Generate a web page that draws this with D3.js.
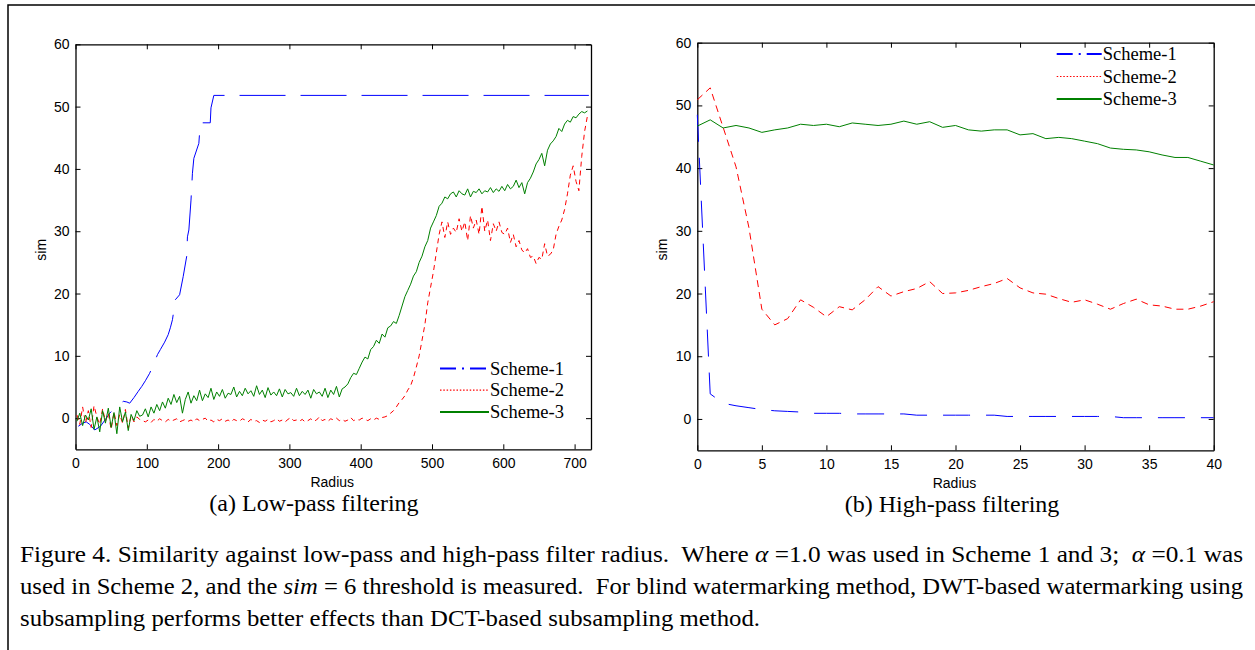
<!DOCTYPE html>
<html>
<head>
<meta charset="utf-8">
<script src="https://cdn.jsdelivr.net/npm/d3@7"></script>
<style>
  body { margin: 0; background: #fff; }
  svg { display: block; }
  .tick text { font-family: "Liberation Sans", Arial, sans-serif; font-size: 14px; fill: #000; }
  .tick line, .domain { stroke: #000; }
</style>
</head>
<body>
<div id="chart"></div>
<script>
// ---- data ----
const seriesNames = ["Scheme-1", "Scheme-2", "Scheme-3"]
const seriesColors = ["#0000ff", "#ff0000", "#008000"]

// (a) low-pass: radius grid for scheme 2/3, scheme 1 has its own points
const lowRadius = d3.range(2, 720, 4)
const lowScheme1Radius = [4, 10, 15, 20, 27, 35, 42, 48, 55, 62, 67, 72, 76, 82, 88, 93, 98, 104, 110, 115, 119, 125, 130, 133, 136, 140, 146, 151, 156, 157, 159, 162, 164, 166, 173, 175, 189, 190, 194, 720]
const lowScheme1 = [-1.3, -0.8, -0.6, -1.0, -1.9, -1.3, -0.2, 0.8, 1.6, 2.3, 2.7, 2.6, 2.4, 3.3, 4.3, 5.1, 6.0, 7.2, 8.8, 10.2, 11.0, 12.2, 13.4, 14.5, 15.8, 19.0, 19.8, 22.7, 26.0, 29.1, 30.2, 35.0, 39.3, 41.7, 44.1, 47.4, 47.4, 49.8, 51.8, 51.8]
const lowScheme2 = [
  0.5, -1.0, 1.8, -0.8, 1.2, -1.5, 2.0, 0.2, -1.0, 1.5, -0.5, 0.8, -1.8, 1.0, -1.2, 0.6, -0.8, 1.4, -1.6, 0.4, -0.6, 0.2, -0.2,
  -0.4, -0.6, -0.3, -0.7, -0.2, -0.5, -0.1, -0.4, -0.6, -0.2,
  -0.5, -0.3, -0.1, -0.6, -0.4, -0.2, -0.5, -0.3, -0.6, -0.1,
  -0.4, -0.2, 0.0, -0.5, -0.3, -0.6, -0.2, -0.4, -0.1, -0.5,
  -0.3, -0.6, -0.2, -0.4, -0.5, -0.1, -0.3, -0.6, -0.2, -0.5,
  -0.4, -0.7, -0.3, -0.5, -0.2, -0.6, -0.4, -0.1, -0.5, -0.3,
  -0.6, -0.2, 0.1, -0.4, -0.3, -0.5, -0.2, -0.6, -0.4, -0.1,
  -0.5, -0.3, 0.2, -0.4, -0.2, -0.5, -0.1, -0.3, 0.0, -0.4,
  -0.2, -0.5, -0.3, 0.1, -0.4, -0.2, -0.3, 0.0, -0.2, -0.4,
  -0.1, -0.3, 0.0, -0.2, 0.1, 0.2,
  0.4, 0.8, 1.2, 1.8, 2.5, 3.0, 3.6, 4.5, 5.2, 6.5, 8.2, 10.0, 12.5, 15.0, 18.5, 21.0,
  23.5, 26.5, 29.5, 31.5, 29.0, 31.5, 29.5, 30.5, 29.8, 32.0,
  30.0, 31.5, 28.5, 32.5, 30.5, 31.8, 29.5, 34.0, 30.0, 31.8,
  28.5, 31.2, 30.0, 31.5, 29.8, 29.5, 30.5, 28.2, 29.5, 27.5,
  28.5, 27.0, 26.5, 27.2, 25.8, 26.0, 24.8, 25.8, 25.5, 28.0,
  26.0, 26.3, 27.0, 29.5, 30.8, 31.8, 33.5, 36.0, 39.0, 40.5,
  38.0, 36.5, 42.0, 46.0, 48.5
]
const lowScheme3 = [
  -0.5, 0.8, -1.2, 0.5, -0.3, 1.5, -1.8, 0.2, -2.2, 1.2, -0.8, 1.6, -1.5, 0.9, -2.5, 1.8, -0.6, 1.0, -2.0, 0.6, -0.4, 1.2, 0.3,
  0.5, 1.5, 0.2, 1.8, 0.8, 2.2, 1.2, 2.6, 1.6, 3.2,
  2.2, 3.8, 2.5, 3.5, 0.8, 3.0, 4.2, 2.4, 3.6, 2.8, 4.5, 2.8, 3.9, 3.3,
  4.8, 3.0, 4.2, 3.5, 4.6, 3.2, 4.0, 3.8, 5.0, 3.4,
  4.3, 3.6, 4.8, 3.9, 4.4, 3.5, 5.2, 3.8, 4.5, 3.3,
  4.9, 3.7, 4.2, 3.6, 4.7, 3.4, 4.6, 3.9, 4.1, 3.5,
  4.8, 3.6, 4.3, 3.8, 4.5, 3.2, 4.6, 3.9, 4.2, 3.5,
  4.8, 3.3, 4.5, 3.8, 5.1, 3.4, 4.7, 5.0,
  5.5, 6.5, 7.2, 7.0, 8.0, 9.0, 9.8, 9.5, 11.0, 11.5, 12.5, 12.0, 13.5, 13.0, 14.5,
  14.8, 15.5, 15.2, 16.5, 18.0, 19.5, 20.5, 21.5, 22.8, 23.5, 25.0, 26.0, 27.5, 28.5, 30.5,
  31.5, 32.5, 34.0, 34.5, 35.5, 35.2, 36.0, 36.3, 35.5, 36.5,
  36.0, 35.8, 36.8, 35.5, 36.4, 36.2, 36.8, 36.0, 36.5, 36.3,
  37.0, 36.2, 36.8, 36.4, 37.2, 36.5, 37.5, 36.8, 37.2, 38.2,
  37.0, 37.8, 36.0, 37.8, 38.5, 39.5, 40.8, 41.5, 42.5, 40.5,
  43.0, 44.0, 44.5, 45.2, 46.5, 46.0, 47.2, 47.8, 47.5, 48.4,
  48.2, 48.8, 49.2, 49.0, 49.3
]

// (b) high-pass: radius 0..40
const highRadius = d3.range(0, 41)
const highScheme1 = [48.5, 4.0, 2.5, 2.1, 1.8, 1.5, 1.3, 1.2, 1.1, 0.9, 0.9, 0.9, 0.8, 0.8, 0.8, 0.8, 0.8, 0.6, 0.6, 0.6, 0.6, 0.6, 0.6, 0.6, 0.4, 0.4, 0.4, 0.4, 0.4, 0.4, 0.4, 0.4, 0.4, 0.2, 0.2, 0.2, 0.2, 0.2, 0.2, 0.2, 0.2]
const highScheme2 = [50.9, 52.8, 46.5, 40.2, 30.5, 17.5, 15.0, 16.0, 19.0, 17.8, 16.3, 17.9, 17.4, 19.0, 21.1, 19.6, 20.3, 20.8, 21.9, 20.0, 20.1, 20.5, 21.1, 21.6, 22.4, 20.9, 20.1, 19.9, 19.2, 18.6, 19.0, 18.3, 17.5, 18.4, 19.1, 18.2, 18.0, 17.5, 17.5, 18.0, 18.7]
const highScheme3 = [46.7, 47.7, 46.4, 46.8, 46.4, 45.7, 46.1, 46.4, 47.0, 46.8, 47.0, 46.6, 47.2, 47.0, 46.8, 47.0, 47.5, 47.0, 47.4, 46.5, 46.8, 46.1, 45.9, 46.1, 46.1, 45.3, 45.5, 44.7, 44.9, 44.7, 44.3, 43.9, 43.2, 43.0, 42.9, 42.6, 42.1, 41.7, 41.7, 41.1, 40.5]

const lowTicks = [0, 100, 200, 300, 400, 500, 600, 700]
const highTicks = [0, 5, 10, 15, 20, 25, 30, 35, 40]
const simTicks = [0, 10, 20, 30, 40, 50, 60]

const svg = d3.select('#chart')
  .append('svg')
  .attr('width', 1255)
  .attr('height', 650)

// outer frame (runs off the right and bottom edge)
svg.append('rect')
  .attr('x', 8).attr('y', 5)
  .attr('width', 1260).attr('height', 660)
  .attr('fill', 'none').attr('stroke', '#000').attr('stroke-width', 1.5)

function drawPanel(cfg) {
  const x = d3.scaleLinear().domain(cfg.xDomain).range([cfg.left, cfg.right])
  const y = d3.scaleLinear().domain([-5, 60]).range([cfg.bottom, cfg.top])
  const g = svg.append('g')

  g.append('g').attr('transform', `translate(0,${cfg.bottom})`)
    .call(d3.axisBottom(x).tickValues(cfg.xTicks).tickSize(-5).tickSizeOuter(0).tickPadding(9))
  g.append('g').attr('transform', `translate(0,${cfg.top})`)
    .call(d3.axisTop(x).tickValues(cfg.xTicks).tickSize(-5).tickSizeOuter(0).tickFormat(''))
  g.append('g').attr('transform', `translate(${cfg.left},0)`)
    .call(d3.axisLeft(y).tickValues(simTicks).tickSize(-5).tickSizeOuter(0).tickPadding(6))
  g.append('g').attr('transform', `translate(${cfg.right},0)`)
    .call(d3.axisRight(y).tickValues(simTicks).tickSize(-5).tickSizeOuter(0).tickFormat(''))
  g.selectAll('.domain').attr('stroke-width', 1.3)

  g.append('text')
    .attr('x', (cfg.left + cfg.right) / 2 - 1).attr('y', cfg.bottom + 38)
    .attr('text-anchor', 'middle')
    .style('font-family', '"Liberation Sans", Arial, sans-serif').style('font-size', '14px')
    .text('Radius')
  g.append('text')
    .attr('transform', `translate(${cfg.left - 30},${(cfg.top + cfg.bottom) / 2 + 3}) rotate(-90)`)
    .attr('text-anchor', 'middle')
    .style('font-family', '"Liberation Sans", Arial, sans-serif').style('font-size', '14px')
    .text('sim')
  g.append('text')
    .attr('x', cfg.captionX).attr('y', cfg.bottom + 62)
    .attr('text-anchor', 'middle')
    .style('font-family', '"Liberation Serif", "Times New Roman", serif').style('font-size', '24px')
    .text(cfg.caption)

  const line = d3.line().x(d => x(d[0])).y(d => y(d[1]))
  cfg.series.forEach((s, i) => {
    g.append('path')
      .datum(d3.zip(s.radius, s.values))
      .attr('d', line)
      .attr('fill', 'none')
      .attr('stroke', seriesColors[i])
      .attr('stroke-width', 1)
      .attr('stroke-dasharray', s.dash)
  })

  // legend
  const lg = g.append('g')
  seriesNames.forEach((name, i) => {
    const ly = cfg.legendY + i * cfg.legendStep
    lg.append('line')
      .attr('x1', cfg.legendX).attr('x2', cfg.legendX + cfg.legendLen)
      .attr('y1', ly).attr('y2', ly)
      .attr('stroke', seriesColors[i])
      .attr('stroke-width', i === 1 ? 1.2 : 2)
      .attr('stroke-dasharray', ['16,6,2,6', '1.5,1.8', null][i])
    lg.append('text')
      .attr('x', cfg.legendX + cfg.legendLen + 1).attr('y', ly + 6)
      .style('font-family', '"Liberation Serif", "Times New Roman", serif').style('font-size', '18.5px')
      .text(name)
  })
}

drawPanel({
  xDomain: [0, 723], left: 75.5, right: 591, top: 44.3, bottom: 449.3,
  xTicks: lowTicks, caption: '(a) Low-pass filtering', captionX: 314,
  legendX: 440, legendLen: 49, legendY: 368.5, legendStep: 21.7,
  series: [
    { radius: lowScheme1Radius, values: lowScheme1, dash: '46,15' },
    { radius: lowRadius, values: lowScheme2, dash: '5,4' },
    { radius: lowRadius, values: lowScheme3, dash: null }
  ]
})

drawPanel({
  xDomain: [0, 40], left: 697.3, right: 1213.7, top: 42.7, bottom: 450.3,
  xTicks: highTicks, caption: '(b) High-pass filtering', captionX: 952,
  legendX: 1056.7, legendLen: 45, legendY: 54, legendStep: 22.5,
  series: [
    { radius: highRadius, values: highScheme1, dash: '27,16' },
    { radius: highRadius, values: highScheme2, dash: '7,5' },
    { radius: highRadius, values: highScheme3, dash: null }
  ]
})

// figure caption
const capFont = '"Liberation Serif", "Times New Roman", serif'
const cap1 = svg.append('text').attr('x', 20).attr('y', 562)
  .attr('textLength', 1223).attr('lengthAdjust', 'spacingAndGlyphs')
  .style('font-family', capFont).style('font-size', '23px').style('white-space', 'pre')
cap1.append('tspan').text('Figure 4. Similarity against low-pass and high-pass filter radius.  Where ')
cap1.append('tspan').style('font-style', 'italic').text('α')
cap1.append('tspan').text(' =1.0 was used in Scheme 1 and 3;  ')
cap1.append('tspan').style('font-style', 'italic').text('α')
cap1.append('tspan').text(' =0.1 was')

const cap2 = svg.append('text').attr('x', 20).attr('y', 594)
  .attr('textLength', 1223).attr('lengthAdjust', 'spacingAndGlyphs')
  .style('font-family', capFont).style('font-size', '23px').style('white-space', 'pre')
cap2.append('tspan').text('used in Scheme 2, and the ')
cap2.append('tspan').style('font-style', 'italic').text('sim')
cap2.append('tspan').text(' = 6 threshold is measured.  For blind watermarking method, DWT-based watermarking using')

svg.append('text').attr('x', 20).attr('y', 626)
  .attr('textLength', 740).attr('lengthAdjust', 'spacingAndGlyphs')
  .style('font-family', capFont).style('font-size', '23px')
  .text('subsampling performs better effects than DCT-based subsampling method.')
</script>
</body>
</html>
